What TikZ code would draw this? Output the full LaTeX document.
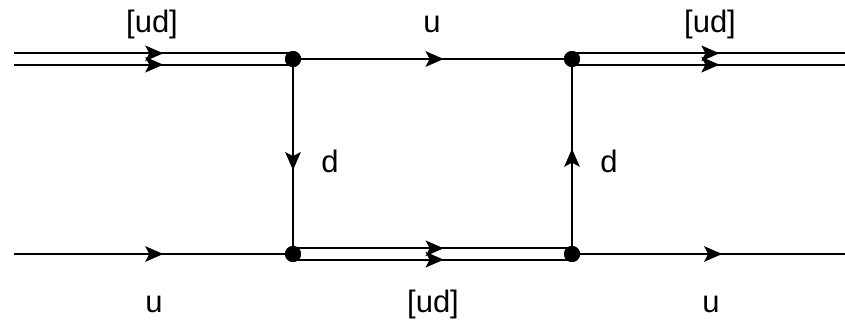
\documentclass[tikz,border=0pt]{standalone}
\usepackage{fontspec}
\setmainfont{Liberation Sans}
\usetikzlibrary{arrows.meta,decorations.markings}
\tikzset{
  x=1pt,y=-1pt,
  vertex/.style={circle,fill=black,inner sep=0pt,minimum size=16pt},
  line/.style={line width=2pt,draw=black},
  mid/.style={decoration={markings,mark=at position #1 with {\arrow{Stealth[length=18pt,width=15.5pt,inset=4pt]}}},postaction={decorate}},
  lbl/.style={font=\fontsize{31}{34}\selectfont,inner sep=0pt,anchor=base},
  up/.style={yshift=5.7pt},
  down/.style={yshift=-5.7pt}
}
\begin{document}
\begin{tikzpicture}
\useasboundingbox (0,0) rectangle (845,320);
\coordinate (tl) at (14,59);
\coordinate (tr) at (845,59);
\coordinate (bl) at (14,254);
\coordinate (br) at (845,254);
\node[vertex] (a) at (293,59) {};
\node[vertex] (b) at (572,59) {};
\node[vertex] (c) at (293,254) {};
\node[vertex] (d) at (572,254) {};
% double lines
\draw[line,mid=0.535] ([up]tl) -- ([up]a.center);
\draw[line,mid=0.535] ([down]tl) -- ([down]a.center);
\draw[line,mid=0.54] ([up]b.center) -- ([up]tr);
\draw[line,mid=0.54] ([down]b.center) -- ([down]tr);
\draw[line,mid=0.54] ([up]c.center) -- ([up]d.center);
\draw[line,mid=0.54] ([down]c.center) -- ([down]d.center);
% single lines
\draw[line,mid=0.54] (a.center) -- (b.center);
\draw[line,mid=0.57] (a.center) -- (c.center);
\draw[line,mid=0.54] (d.center) -- (b.center);
\draw[line,mid=0.535] (bl) -- (c.center);
\draw[line,mid=0.55] (d.center) -- (br);
\node[vertex] at (a.center) {};
\node[vertex] at (b.center) {};
\node[vertex] at (c.center) {};
\node[vertex] at (d.center) {};
% labels
\node[lbl] (l1) at (152,33) {[ud]};
\node[lbl] (l2) at (432,33) {u};
\node[lbl] (l3) at (710,33) {[ud]};
\node[lbl] (l4) at (330,172.5) {d};
\node[lbl] (l5) at (609,172.5) {d};
\node[lbl] (l6) at (154,312) {u};
\node[lbl] (l7) at (433,312) {[ud]};
\node[lbl] (l8) at (711,312) {u};
\end{tikzpicture}
\end{document}
